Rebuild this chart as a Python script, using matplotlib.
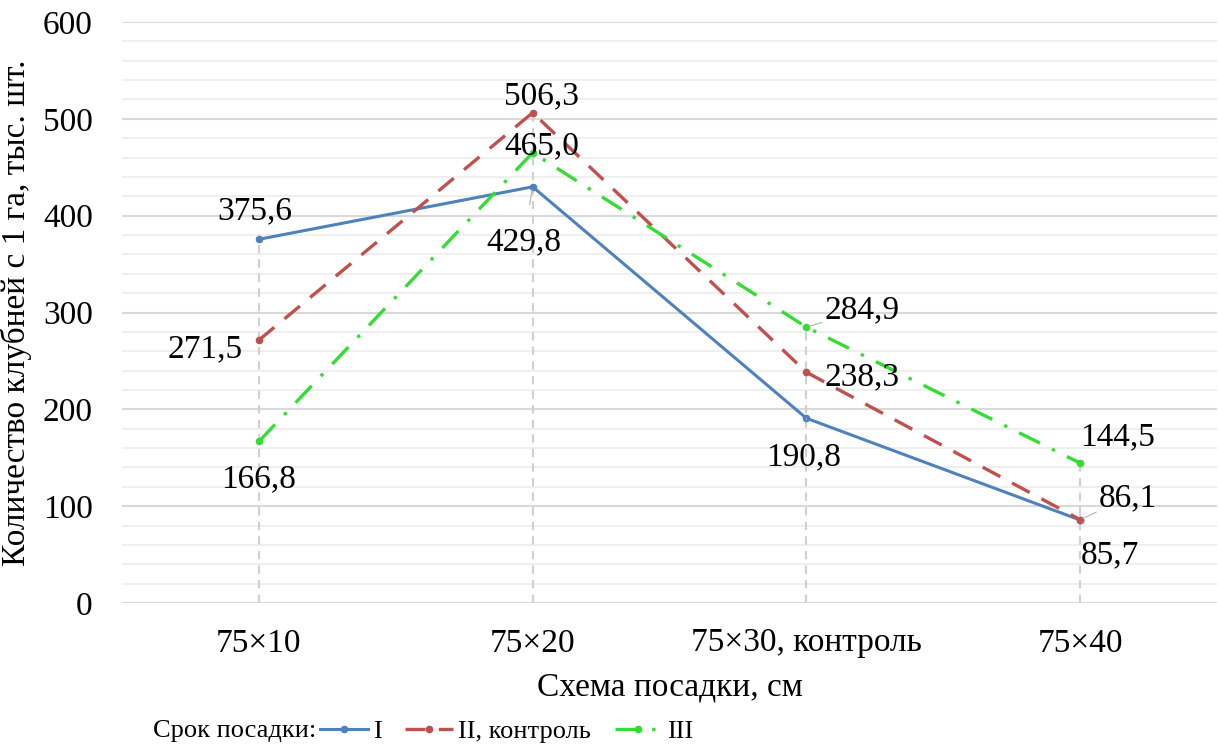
import matplotlib
matplotlib.use('Agg')
import matplotlib.pyplot as plt
from matplotlib.ticker import MultipleLocator

plt.rcParams['font.family'] = ['Liberation Serif', 'DejaVu Serif']

categories = ['75×10', '75×20', '75×30, контроль', '75×40']
series_names = ['I', 'II, контроль', 'III']
values_I = [375.6, 429.8, 190.8, 85.7]
values_II = [271.5, 506.3, 238.3, 86.1]
values_III = [166.8, 465.0, 284.9, 144.5]
labels_I = ['375,6', '429,8', '190,8', '85,7']
labels_II = ['271,5', '506,3', '238,3', '86,1']
labels_III = ['166,8', '465,0', '284,9', '144,5']

# label offsets in pixels (dx, dy), and whether a leader line is drawn
offs_I = [(-4, 28, False), (-9, -55, True), (-3, -39, True), (30, -35, True)]
offs_II = [(-54, -9, False), (9, 17, False), (56, -5, False), (48, 22, True)]
offs_III = [(0, -38, True), (9, 7, False), (56, 17, True), (37, 26, False)]

colors = ['#4f81bd', '#c0504d', '#33dd33']
fs = 24
legend_fs = 18

fig = plt.figure(figsize=(12.18, 7.53), dpi=100)
ax = fig.add_axes([122 / 1218, 1 - 603 / 753, 1095 / 1218, 581 / 753])

x = list(range(len(categories)))
tops = [max(a, b, c) for a, b, c in zip(values_I, values_II, values_III)]
ax.vlines(x, 0, tops, colors='#d0d0d0', linestyles=(0, (4, 3)), lw=1.5, zorder=1)

ax.plot(x, values_I, color=colors[0], lw=2.2, marker='o', ms=4.5, label=series_names[0], zorder=3)
ax.plot(x, values_II, color=colors[1], lw=2.4, ls=(0, (6, 4)), marker='o', ms=4.5,
        label=series_names[1], zorder=3)
ax.plot(x, values_III, color=colors[2], lw=2.4, ls=(0, (7, 4, 1, 4)), marker='o', ms=4.5,
        label=series_names[2], zorder=3)

for vals, labs, offs in [(values_I, labels_I, offs_I), (values_II, labels_II, offs_II),
                         (values_III, labels_III, offs_III)]:
    for xi, v, lab, (dx, dy, lead) in zip(x, vals, labs, offs):
        ap = dict(arrowstyle='-', color='#b0b0b0', lw=0.8, shrinkA=14, shrinkB=2) if lead else None
        ax.annotate(lab, (xi, v), xytext=(dx, dy), textcoords='offset pixels',
                    ha='center', va='center', fontsize=fs, arrowprops=ap, zorder=4)

ax.set_xlim(-0.5, 3.5)
ax.set_ylim(0, 600)
ax.yaxis.set_major_locator(MultipleLocator(100))
ax.yaxis.set_minor_locator(MultipleLocator(20))
ax.grid(which='major', axis='y', color='#d9d9d9', lw=1.5)
ax.grid(which='minor', axis='y', color='#ececec', lw=1.2)
ax.set_axisbelow(True)
for s in ax.spines.values():
    s.set_visible(False)
ax.tick_params(which='both', length=0, labelsize=fs)
ax.tick_params(axis='y', pad=21)
ax.tick_params(axis='x', pad=18)
ax.set_xticks(x)
ax.set_xticklabels(categories)

ax.set_xlabel('Схема посадки, см', fontsize=fs, labelpad=10)
ax.set_ylabel('Количество клубней с 1 га, тыс. шт.', fontsize=fs, labelpad=8)

fig.text(316 / 1218, 1 - 731 / 753, 'Срок посадки:', ha='right', va='center', fontsize=legend_fs + 1)
fig.legend(loc='center left', bbox_to_anchor=(320 / 1218, 1 - 731 / 753), ncol=3, frameon=False,
           fontsize=legend_fs + 1, handlelength=1.8, columnspacing=0.9, handletextpad=0.2,
           borderaxespad=0, borderpad=0)

fig.savefig('out.png', dpi=100)
